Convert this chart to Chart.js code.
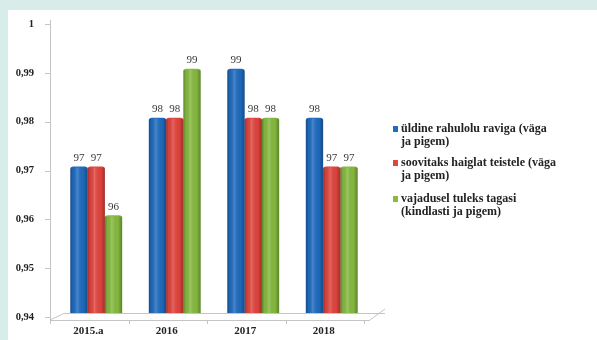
<!DOCTYPE html>
<html>
<head>
<meta charset="utf-8">
<script src="https://cdn.jsdelivr.net/npm/chart.js@4/dist/chart.umd.min.js"></script>
<style>
  html, body { margin: 0; padding: 0; background: #d8ecea; width: 597px; height: 340px; overflow: hidden; }
  #panel { position: absolute; left: 8px; top: 10px; width: 589px; height: 330px; background: #ffffff; }
  canvas { display: block; }
</style>
</head>
<body>
<div id="panel"><canvas id="c" width="589" height="330"></canvas></div>
<script>
const categories = ["2015.a", "2016", "2017", "2018"];
const seriesNames = [
  "üldine rahulolu raviga (väga\nja pigem)",
  "soovitaks haiglat teistele (väga\nja pigem)",
  "vajadusel tuleks tagasi\n(kindlasti ja pigem)"
];
const rahulolu = [0.97, 0.98, 0.99, 0.98];
const soovitaks = [0.97, 0.98, 0.98, 0.97];
const tagasi = [0.96, 0.99, 0.98, 0.97];
const yTicks = [0.94, 0.95, 0.96, 0.97, 0.98, 0.99, 1];
const colors = ["#1f6cc0", "#e2443d", "#86bb3f"];

const FONT = "'Liberation Serif', 'Times New Roman', serif";

const decor = {
  id: 'decor',
  beforeDatasetsDraw(chart) {
    const ctx = chart.ctx, a = chart.chartArea;
    const ax = a.left - 7;
    const fy = a.bottom + 7;
    ctx.save();
    ctx.strokeStyle = '#c4c4c4';
    ctx.lineWidth = 1;
    ctx.beginPath();
    ctx.moveTo(ax + 0.5, a.top);
    ctx.lineTo(ax + 0.5, fy);
    ctx.moveTo(ax, fy + 0.5);
    ctx.lineTo(a.right - 1, fy + 0.5);
    ctx.moveTo(ax + 15, a.bottom + 0.5);
    ctx.lineTo(a.right + 14, a.bottom + 0.5);
    ctx.moveTo(ax, fy);
    ctx.lineTo(ax + 15, a.bottom);
    ctx.moveTo(a.right - 1, fy);
    ctx.lineTo(a.right + 14, a.bottom - 4);
    const ys = chart.scales.y;
    yTicks.forEach(v => {
      const p = Math.round(ys.getPixelForValue(v)) + 4;
      const yy = Math.min(p, fy);
      ctx.moveTo(ax - 5, yy + 0.5);
      ctx.lineTo(ax, yy + 0.5);
    });
    const step = (a.right - a.left) / categories.length;
    for (let i = 0; i <= categories.length; i++) {
      const x = Math.round(ax + i * step) + 0.5;
      ctx.moveTo(x, fy);
      ctx.lineTo(x, fy + 4);
    }
    ctx.stroke();
    ctx.restore();
  },
  afterDatasetsDraw(chart) {
    const ctx = chart.ctx, a = chart.chartArea;
    ctx.save();
    chart.data.datasets.forEach((ds, i) => {
      const meta = chart.getDatasetMeta(i);
      meta.data.forEach((el, j) => {
        const left = el.x - el.width / 2, w = el.width;
        const top = el.y, bottom = Math.min(el.base, a.bottom);
        const g = ctx.createLinearGradient(left, 0, left + w, 0);
        g.addColorStop(0, 'rgba(0,0,0,0.30)');
        g.addColorStop(0.15, 'rgba(0,0,0,0.05)');
        g.addColorStop(0.4, 'rgba(255,255,255,0.18)');
        g.addColorStop(0.75, 'rgba(0,0,0,0.02)');
        g.addColorStop(1, 'rgba(0,0,0,0.30)');
        ctx.fillStyle = g;
        ctx.fillRect(left, top + 1, w, bottom - top - 1);
        ctx.fillStyle = '#3a3a3a';
        ctx.font = "11px " + FONT;
        ctx.textAlign = 'center';
        ctx.textBaseline = 'bottom';
        ctx.fillText(String(Math.round(ds.data[j] * 100)), el.x, el.y - 3);
      });
    });
    ctx.restore();
  },
  afterDraw(chart) {
    const ctx = chart.ctx;
    ctx.save();
    ctx.font = "bold 12px " + FONT;
    ctx.textAlign = 'left';
    ctx.textBaseline = 'middle';
    const startY = [119, 153, 189];
    chart.data.datasets.forEach((ds, i) => {
      const lines = ds.label.split('\n');
      ctx.fillStyle = colors[i];
      ctx.fillRect(385, startY[i] - 3, 5, 6);
      ctx.fillStyle = '#222222';
      lines.forEach((ln, k) => ctx.fillText(ln, 393, startY[i] + k * 12.5));
    });
    ctx.restore();
  }
};

new Chart(document.getElementById('c'), {
  type: 'bar',
  data: {
    labels: categories,
    datasets: [
      { label: seriesNames[0], data: rahulolu, backgroundColor: colors[0] },
      { label: seriesNames[1], data: soovitaks, backgroundColor: colors[1] },
      { label: seriesNames[2], data: tagasi, backgroundColor: colors[2] }
    ]
  },
  options: {
    responsive: false,
    animation: false,
    layout: { padding: { top: 10, right: 226, bottom: 0, left: 0 } },
    datasets: {
      bar: {
        categoryPercentage: 0.66,
        barPercentage: 1.0,
        borderRadius: { topLeft: 3, topRight: 3, bottomLeft: 0, bottomRight: 0 },
        borderSkipped: 'bottom'
      }
    },
    plugins: {
      legend: { display: false },
      tooltip: { enabled: false },
      title: { display: false }
    },
    scales: {
      x: {
        grid: { display: false, drawTicks: false },
        border: { display: false },
        ticks: {
          color: '#222222',
          font: { family: FONT, size: 11, weight: 'bold' },
          padding: 12,
          labelOffset: -8,
          maxRotation: 0
        },
        afterFit(s) { s.height = 27; s.paddingLeft = 0; s.paddingRight = 0; }
      },
      y: {
        min: 0.94,
        max: 1,
        afterBuildTicks(s) { s.ticks = yTicks.map(v => ({ value: v })); },
        grid: { display: false, drawTicks: false },
        border: { display: false },
        ticks: {
          color: '#222222',
          font: { family: FONT, size: 10.5, weight: 'bold' },
          padding: 23,
          labelOffset: 4,
          callback: v => (v === 1 ? '1' : v.toFixed(2).replace('.', ','))
        },
        afterFit(s) { s.width = 49; s.paddingTop = 0; s.paddingBottom = 0; }
      }
    }
  },
  plugins: [decor]
});
</script>
</body>
</html>
